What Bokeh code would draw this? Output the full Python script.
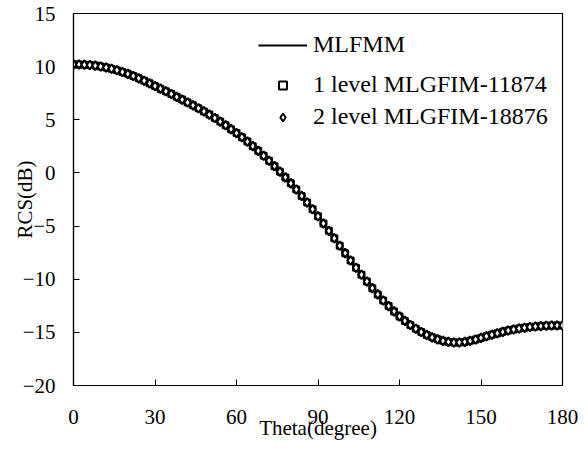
from bokeh.plotting import figure
from bokeh.models import FixedTicker, Legend, LegendItem, Range1d
from bokeh.embed import file_html
from bokeh.resources import INLINE

theta = list(range(0, 181, 2))
rcs_mlfmm = [10.20, 10.20, 10.18, 10.15, 10.10, 10.02, 9.92, 9.80, 9.66, 9.50,
             9.32, 9.12, 8.90, 8.67, 8.43, 8.18, 7.93, 7.68, 7.42, 7.16,
             6.90, 6.63, 6.36, 6.08, 5.79, 5.49, 5.17, 4.83, 4.48, 4.12,
             3.75, 3.36, 2.95, 2.52, 2.08, 1.62, 1.14, 0.64, 0.12, -0.42,
             -0.98, -1.56, -2.16, -2.78, -3.42, -4.08, -4.76, -5.45, -6.15, -6.85,
             -7.55, -8.24, -8.92, -9.58, -10.22, -10.84, -11.43, -12.00, -12.53, -13.03,
             -13.50, -13.92, -14.31, -14.66, -14.97, -15.24, -15.47, -15.66, -15.80, -15.90,
             -15.95, -15.95, -15.90, -15.80, -15.67, -15.52, -15.37, -15.22, -15.08, -14.95,
             -14.83, -14.73, -14.64, -14.56, -14.50, -14.45, -14.41, -14.38, -14.36, -14.35,
             -14.35]
rcs_level1 = list(rcs_mlfmm)
rcs_level2 = list(rcs_mlfmm)
x_ticks = [0, 30, 60, 90, 120, 150, 180]
y_ticks = [-20, -15, -10, -5, 0, 5, 10, 15]

FONT = "Liberation Serif"

p = figure(width=580, height=445, output_backend="svg", toolbar_location=None,
           x_range=Range1d(0, 180), y_range=Range1d(-20, 15),
           min_border_left=73, min_border_right=18, min_border_top=13, min_border_bottom=60)
p.grid.visible = False
p.outline_line_color = "black"
p.outline_line_width = 1.2
p.background_fill_color = "white"
p.border_fill_color = "white"

for ax in (p.xaxis, p.yaxis):
    ax.axis_line_color = "black"
    ax.axis_line_width = 1.2
    ax.major_tick_in = 6
    ax.major_tick_out = 0
    ax.minor_tick_line_color = None
    ax.major_tick_line_color = "black"
    ax.major_label_text_font = FONT
    ax.major_label_text_font_size = "21px"
    ax.major_label_text_color = "black"
    ax.axis_label_text_font = FONT
    ax.axis_label_text_font_size = "21px"
    ax.axis_label_text_font_style = "normal"
    ax.axis_label_text_color = "black"

p.xaxis.ticker = FixedTicker(ticks=x_ticks)
p.yaxis.ticker = FixedTicker(ticks=y_ticks)
p.xaxis.axis_label = "Theta(degree)"
p.yaxis.axis_label = "RCS(dB)"
p.xaxis.major_label_standoff = 24
p.yaxis.major_label_standoff = 18
p.xaxis.axis_label_standoff = -11
p.yaxis.axis_label_standoff = -17

r_line = p.line(theta, rcs_mlfmm, line_color="black", line_width=2)
r_sq = p.scatter(theta, rcs_level1, marker="square", size=6, fill_color="white",
                 line_color="black", line_width=2)
r_di = p.scatter(theta, rcs_level2, marker="diamond", size=9, fill_color="white",
                 line_color="black", line_width=2)

def add_legend(label, rend, y_center):
    lg = Legend(items=[LegendItem(label=label, renderers=[rend])],
                location=(185, 375 - y_center))
    lg.background_fill_alpha = 0
    lg.border_line_color = None
    lg.padding = 0
    lg.margin = 0
    lg.spacing = 0
    lg.glyph_width = 49
    lg.glyph_height = 20
    lg.label_height = 20
    lg.label_standoff = 6
    lg.label_text_font = FONT
    lg.label_text_font_size = "24px"
    lg.label_text_color = "black"
    p.add_layout(lg, "center")

add_legend("MLFMM", r_line, 48)
add_legend("1 level MLGFIM-11874", r_sq, 88)
add_legend("2 level MLGFIM-18876", r_di, 120)

open("out.html", "w").write(file_html(p, INLINE))
